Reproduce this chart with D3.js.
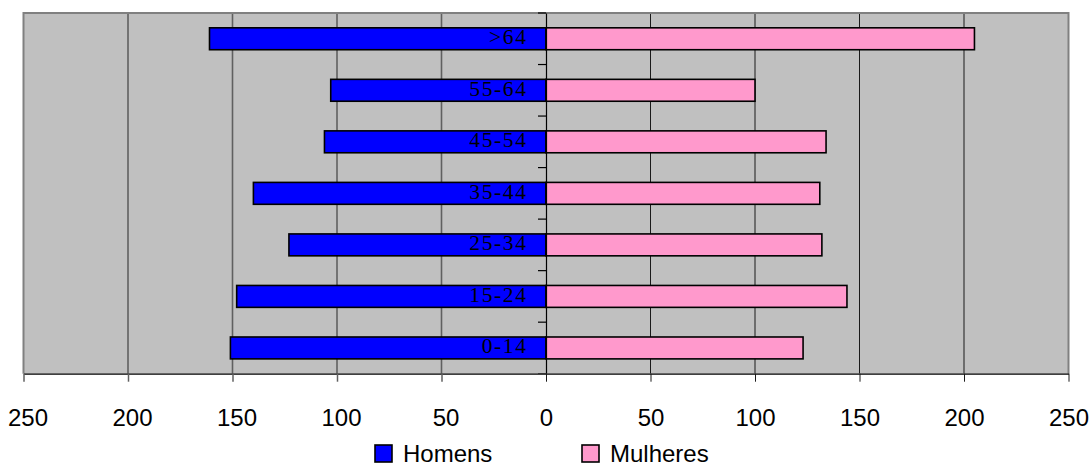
<!DOCTYPE html>
<html>
<head>
<meta charset="utf-8">
<script src="https://cdn.jsdelivr.net/npm/d3@7"></script>
<style>
  html, body { margin: 0; padding: 0; background: #fff; }
  svg { display: block; }
</style>
</head>
<body>
<svg id="chart" width="1090" height="466"></svg>
<script>
// Population pyramid: men (left) vs women (right) by age group
const ageGroups = ["0-14", "15-24", "25-34", "35-44", "45-54", "55-64", ">64"];
const homens    = [151, 148, 123, 140, 106, 103, 161];
const mulheres  = [123, 144, 132, 131, 134, 100, 205];
const axisTicks = [0, 50, 100, 150, 200, 250];
const seriesNames = ["Homens", "Mulheres"];
const seriesColors = ["#0000FF", "#FF99CC"];

const svg = d3.select("#chart");
const plot = { left: 23.5, right: 1068.5, top: 13, bottom: 373.7 };
const center = 546;

const xL = d3.scaleLinear().domain([0, 250]).range([center, plot.left]);
const xR = d3.scaleLinear().domain([0, 250]).range([center, plot.right]);
const y = d3.scaleBand()
  .domain(ageGroups.slice().reverse())
  .range([plot.top, plot.bottom])
  .paddingInner(0.575)
  .paddingOuter(0.2875);

// plot background
svg.append("rect")
  .attr("x", plot.left).attr("y", plot.top)
  .attr("width", plot.right - plot.left).attr("height", plot.bottom - plot.top)
  .attr("fill", "#C0C0C0");

// vertical gridlines
const gridVals = axisTicks.filter(v => v > 0 && v < 250);
svg.append("g").selectAll("line").data(gridVals).join("line")
  .attr("x1", d => xL(d)).attr("x2", d => xL(d))
  .attr("y1", plot.top).attr("y2", plot.bottom)
  .attr("stroke", "#606060").attr("stroke-width", 1.6);
svg.append("g").selectAll("line").data(gridVals).join("line")
  .attr("x1", d => xR(d)).attr("x2", d => xR(d))
  .attr("y1", plot.top).attr("y2", plot.bottom)
  .attr("stroke", "#1a1a1a").attr("stroke-width", 1);

// plot border (top, left, right)
svg.append("path")
  .attr("d", `M${plot.left},${plot.bottom}V${plot.top}H${plot.right}V${plot.bottom}`)
  .attr("fill", "none").attr("stroke", "#808080").attr("stroke-width", 2);

// bars
const rows = ageGroups.map((g, i) => ({ g, h: homens[i], m: mulheres[i] }));
svg.append("g").selectAll("rect").data(rows).join("rect")
  .attr("x", d => xL(d.h)).attr("width", d => xL(0) - xL(d.h))
  .attr("y", d => y(d.g)).attr("height", y.bandwidth())
  .attr("fill", seriesColors[0]).attr("stroke", "#000").attr("stroke-width", 1.6);
svg.append("g").selectAll("rect").data(rows).join("rect")
  .attr("x", d => xR(0)).attr("width", d => xR(d.m) - xR(0))
  .attr("y", d => y(d.g)).attr("height", y.bandwidth())
  .attr("fill", seriesColors[1]).attr("stroke", "#000").attr("stroke-width", 1.6);

// central category axis
const catAxis = d3.axisLeft(y).tickSize(0).tickFormat("");
const gc = svg.append("g").attr("transform", `translate(${center},0)`).call(catAxis);
gc.select(".domain").attr("stroke", "#000").attr("stroke-width", 1.2);
const bounds = d3.range(ageGroups.length + 1).map(i => plot.top + i * y.step());
svg.append("g").selectAll("line").data(bounds).join("line")
  .attr("x1", center - 8).attr("x2", center)
  .attr("y1", d => d).attr("y2", d => d)
  .attr("stroke", "#000").attr("stroke-width", 1.2);

// category labels
svg.append("g").selectAll("text").data(ageGroups).join("text")
  .attr("x", 527.5)
  .attr("y", d => y(d) + y.bandwidth() / 2 + 5.5)
  .attr("text-anchor", "end")
  .attr("font-family", "'Liberation Serif', 'Times New Roman', serif")
  .attr("font-size", 21.5)
  .attr("letter-spacing", 1.6)
  .attr("fill", "#000")
  .text(d => d);

// bottom value axes
const axisFont = "'Liberation Sans', Arial, sans-serif";
const axL = d3.axisBottom(xL).tickValues(axisTicks.filter(v => v > 0))
  .tickSize(8).tickSizeOuter(0).tickPadding(27.3).tickFormat(d3.format("d"));
const axR = d3.axisBottom(xR).tickValues(axisTicks)
  .tickSize(8).tickSizeOuter(0).tickPadding(27.3).tickFormat(d3.format("d"));
const gL = svg.append("g").attr("transform", `translate(0,${plot.bottom})`).call(axL);
const gR = svg.append("g").attr("transform", `translate(0,${plot.bottom})`).call(axR);
[gL, gR].forEach(g => {
  g.select(".domain").attr("stroke", "#404040").attr("stroke-width", 1.8);
  g.selectAll("text").attr("font-family", axisFont).attr("font-size", 24).attr("fill", "#000");
});
gL.selectAll(".tick line").attr("stroke", "#606060").attr("stroke-width", 1.5);
gL.selectAll(".tick text").attr("dx", 4);
gR.selectAll(".tick line").attr("stroke", "#1a1a1a").attr("stroke-width", 1);

// legend
const legendX = [375, 582];
const lg = svg.append("g").selectAll("g").data(seriesNames).join("g")
  .attr("transform", (d, i) => `translate(${legendX[i]},445)`);
lg.append("rect")
  .attr("width", 17).attr("height", 17)
  .attr("fill", (d, i) => seriesColors[i])
  .attr("stroke", "#000").attr("stroke-width", 1.6);
lg.append("text")
  .attr("x", 28).attr("y", 16.5)
  .attr("font-family", axisFont).attr("font-size", 24).attr("fill", "#000")
  .text(d => d);
</script>
</body>
</html>
